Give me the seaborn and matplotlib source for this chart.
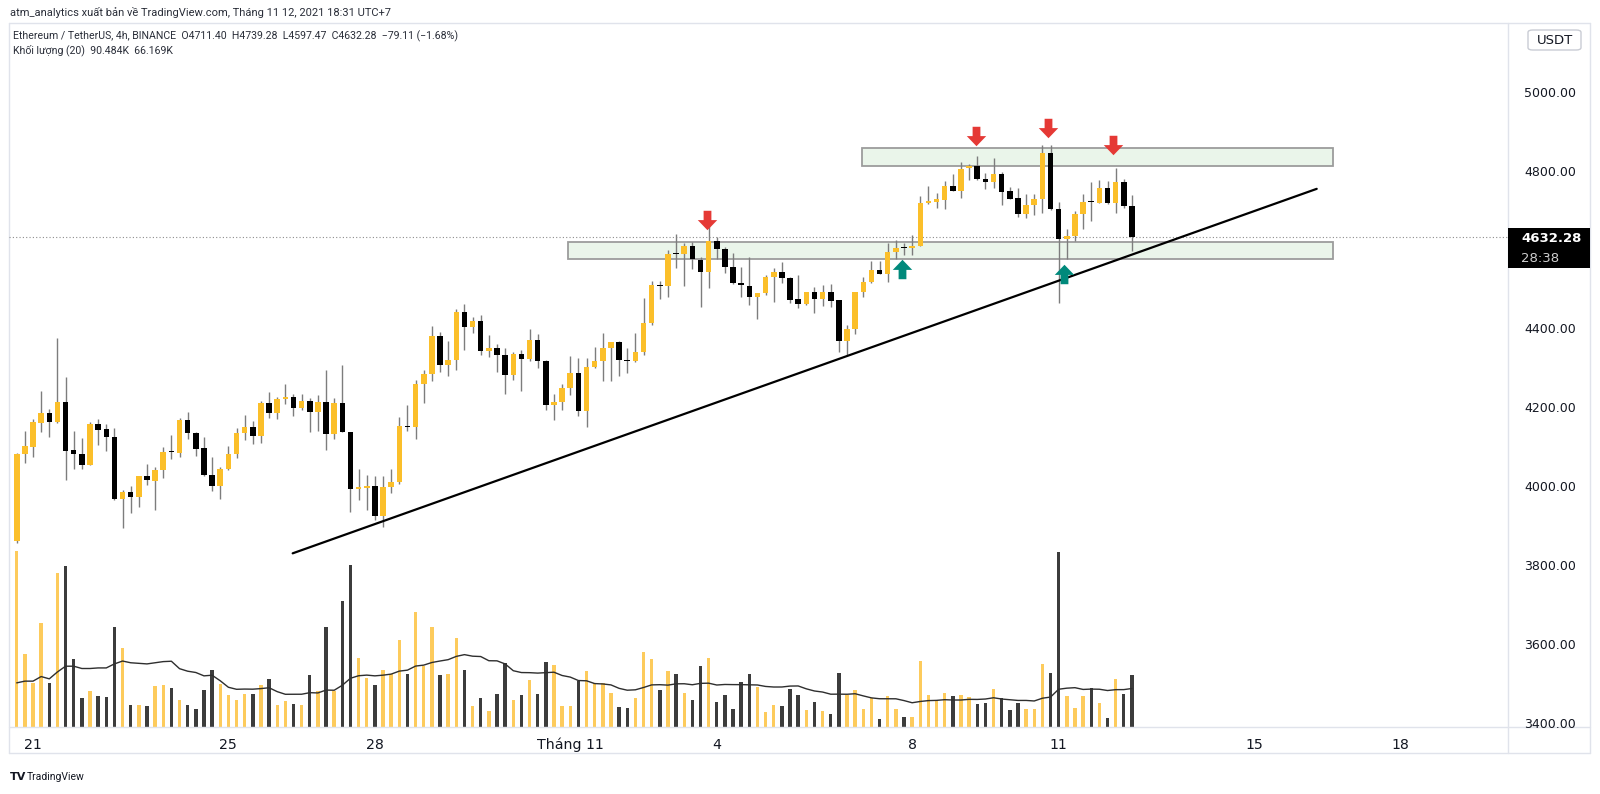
import numpy as np
import pandas as pd
import matplotlib
matplotlib.use("Agg")
import matplotlib.pyplot as plt
from matplotlib.patches import Rectangle, FancyBboxPatch
from matplotlib.lines import Line2D
from matplotlib.path import Path
from matplotlib.ticker import FormatStrFormatter
import seaborn as sns

# ETH/USDT 4h candles, Oct 20 -> Nov 12 2021
opens = [3861, 4081, 4100, 4161, 4185, 4162, 4213, 4091, 4082, 4055,
         4158, 4144, 4126, 3967, 3985, 3973, 4027, 4014, 4042, 4089,
         4085, 4168, 4134, 4096, 4028, 4001, 4045, 4083, 4135, 4150,
         4128, 4211, 4186, 4221, 4226, 4198, 4215, 4188, 4213, 4132,
         4211, 4137, 3994, 3995, 4000, 3924, 3997, 4011, 4153, 4151,
         4259, 4284, 4381, 4307, 4320, 4441, 4404, 4419, 4343, 4350,
         4334, 4283, 4336, 4323, 4370, 4318, 4207, 4214, 4248, 4288,
         4192, 4303, 4317, 4350, 4365, 4320, 4318, 4341, 4413, 4511,
         4508, 4589, 4588, 4609, 4574, 4544, 4622, 4601, 4555, 4515,
         4508, 4481, 4489, 4531, 4542, 4529, 4474, 4462, 4493, 4474,
         4492, 4472, 4369, 4399, 4493, 4518, 4549, 4539, 4593, 4604,
         4603, 4610, 4719, 4720, 4726, 4761, 4749, 4806, 4812, 4780,
         4772, 4791, 4748, 4730, 4690, 4712, 4728, 4846, 4702, 4627,
         4634, 4690, 4721, 4719, 4756, 4717, 4772, 4711.40]
highs = [4084, 4140, 4170, 4241, 4197, 4377, 4276, 4140, 4122, 4164,
         4170, 4158, 4147, 3990, 4001, 4027, 4056, 4050, 4100, 4129,
         4172, 4188, 4138, 4124, 4075, 4050, 4102, 4147, 4180, 4165,
         4216, 4238, 4227, 4260, 4234, 4235, 4223, 4231, 4296, 4225,
         4307, 4137, 4043, 4028, 4026, 4026, 4043, 4175, 4206, 4269,
         4296, 4406, 4390, 4368, 4449, 4462, 4430, 4434, 4383, 4360,
         4350, 4341, 4345, 4399, 4386, 4319, 4235, 4259, 4330, 4324,
         4324, 4354, 4388, 4366, 4368, 4350, 4388, 4478, 4520, 4520,
         4600, 4639, 4617, 4619, 4580, 4666, 4633, 4607, 4592, 4555,
         4580, 4489, 4535, 4554, 4569, 4530, 4535, 4493, 4506, 4510,
         4514, 4472, 4410, 4493, 4531, 4572, 4570, 4616, 4624, 4616,
         4637, 4736, 4760, 4743, 4775, 4792, 4821, 4818, 4837, 4793,
         4831, 4797, 4759, 4755, 4742, 4742, 4865, 4865, 4721, 4652,
         4698, 4740, 4772, 4776, 4775, 4808, 4778, 4739.28]
lows = [3855, 4058, 4073, 4138, 4124, 4161, 4017, 4045, 4044, 4053,
        4105, 4090, 3964, 3893, 3933, 3948, 4004, 3941, 4021, 4068,
        4073, 4119, 4078, 4025, 3989, 3967, 4041, 4071, 4117, 4108,
        4110, 4174, 4170, 4208, 4179, 4193, 4137, 4141, 4093, 4121,
        4137, 3935, 3965, 3941, 3915, 3898, 3984, 4005, 4141, 4119,
        4212, 4268, 4290, 4279, 4296, 4346, 4389, 4334, 4328, 4290,
        4234, 4269, 4242, 4318, 4299, 4193, 4168, 4193, 4231, 4179,
        4149, 4300, 4267, 4267, 4279, 4288, 4316, 4333, 4409, 4475,
        4479, 4554, 4508, 4550, 4455, 4502, 4575, 4540, 4513, 4480,
        4460, 4423, 4485, 4468, 4516, 4464, 4453, 4460, 4440, 4458,
        4455, 4340, 4333, 4385, 4481, 4516, 4539, 4519, 4576, 4586,
        4586, 4610, 4716, 4705, 4703, 4749, 4731, 4776, 4776, 4753,
        4757, 4713, 4728, 4682, 4679, 4688, 4694, 4700, 4464, 4575,
        4622, 4652, 4673, 4717, 4715, 4692, 4705, 4597.47]
closes = [4083, 4102, 4162, 4185, 4163, 4213, 4090, 4082, 4055, 4158,
          4142, 4125, 3967, 3985, 3973, 4027, 4015, 4042, 4088, 4086,
          4168, 4136, 4095, 4028, 4001, 4045, 4083, 4135, 4150, 4128,
          4211, 4186, 4221, 4226, 4198, 4215, 4188, 4213, 4132, 4211,
          4137, 3993, 3996, 4000, 3924, 3999, 4012, 4153, 4151, 4259,
          4284, 4381, 4307, 4320, 4441, 4404, 4418, 4343, 4350, 4334,
          4283, 4336, 4323, 4370, 4318, 4207, 4214, 4248, 4288, 4192,
          4303, 4317, 4350, 4365, 4320, 4318, 4341, 4413, 4511, 4508,
          4589, 4588, 4609, 4575, 4544, 4622, 4601, 4555, 4515, 4509,
          4481, 4489, 4530, 4542, 4529, 4472, 4462, 4493, 4474, 4492,
          4470, 4369, 4399, 4493, 4518, 4549, 4539, 4593, 4605, 4603,
          4610, 4719, 4720, 4728, 4761, 4749, 4804, 4812, 4780, 4772,
          4791, 4747, 4728, 4690, 4712, 4728, 4846, 4702, 4627, 4634,
          4690, 4721, 4720, 4756, 4717, 4772, 4711, 4632.28]
# volume in thousands of ETH
volumes = [305, 126, 76, 180, 76, 267, 280, 118, 49, 61,
           53, 52, 173, 136, 38, 37, 36, 70, 73, 67,
           46, 38, 31, 63, 98, 74, 54, 47, 57, 57,
           73, 82, 37, 44, 40, 37, 90, 61, 173, 61,
           219, 282, 119, 85, 72, 98, 91, 151, 91, 199,
           106, 173, 89, 91, 154, 98, 36, 49, 27, 57,
           111, 46, 55, 81, 57, 113, 107, 36, 36, 79,
           97, 76, 76, 58, 34, 33, 50, 129, 118, 64,
           96, 91, 58, 46, 106, 119, 43, 55, 31, 78,
           92, 69, 25, 38, 35, 65, 54, 29, 43, 27,
           21, 93, 54, 64, 31, 50, 13, 53, 31, 16,
           16, 114, 55, 46, 59, 53, 55, 52, 40, 41,
           65, 49, 28, 41, 31, 31, 109, 93, 304, 53,
           33, 53, 67, 41, 14, 83, 57, 90.484]
# MA(20) of volume for the first bars (earlier bars are off-screen)
vol_ma_head = [76, 79, 79, 87, 83, 95, 105, 105, 101, 101,
               102, 102, 109, 114, 111, 110, 109, 111, 113]

day_ticks = [2, 26, 44, 68, 86, 110, 128, 152, 170]
day_labels = ["21", "25", "28", "Tháng 11", "4", "8", "11", "15", "18"]
# 4600.00 sits under the last-price badge, so it is not shown
price_ticks = [3400, 3600, 3800, 4000, 4200, 4400, 4800, 5000]
last_price = 4632.28

# drawings: zones (x0, x1, y0, y1), trend line, arrow marks
zones = [(103.8, 161.7, 4811, 4857), (67.7, 161.7, 4576, 4620)]
trend_x = [33.9, 159.7]
trend_y = [3830, 4754]
down_x = [84.8, 117.8, 126.7, 134.7]
down_y = [4674, 4889, 4909, 4865]
up_x = [108.8, 128.7]
up_y = [4552, 4539]

YEL = "#fbbf2a"
BLK = "#000000"
WICK = "#7d7d7d"
VOL_UP = "#fdcb5c"
VOL_DN = "#3c3c3c"
LINE = "#e0e3eb"

sns.set_theme(style="white")
plt.rcParams["font.family"] = ["DejaVu Sans"]

W, H = 1600, 794
def fx(px): return px / W
def fy(py): return 1 - py / H

fig = plt.figure(figsize=(16, 7.94), dpi=100)
fig.patch.set_facecolor("white")
rect = [fx(9), fy(726.5), fx(1508) - fx(9), fy(22.5) - fy(726.5)]
vax = fig.add_axes(rect, zorder=1)
ax = fig.add_axes(rect, zorder=2)
ax.patch.set_alpha(0)

xl = (-0.95, 183.2)
o = np.array(opens); c = np.array(closes)
h = np.array(highs); l = np.array(lows)
idx = np.arange(len(c))
up = c >= o

# volume + MA20
vax.bar(idx, volumes, width=0.42, color=np.where(up, VOL_UP, VOL_DN), linewidth=0)
ma = pd.Series(volumes, dtype=float).rolling(20).mean()
ma.iloc[:len(vol_ma_head)] = vol_ma_head
sns.lineplot(x=idx, y=ma.values, ax=vax, color="#2e2e2e", lw=1.0)
vax.set_xlim(xl)
vax.set_ylim(0, 1226)
vax.axis("off")

# zones
for x0, x1, y0, y1 in zones:
    ax.add_patch(Rectangle((x0, y0), x1 - x0, y1 - y0, fc="#eaf5ea",
                           ec="#9c9c9c", lw=1.3, zorder=1))

ax.axhline(last_price, color="#8c8c8c", ls=(0, (1, 2)), lw=0.8, zorder=1)

# candles
ax.vlines(idx, l, h, color=WICK, lw=1.0, zorder=2)
body_lo = np.minimum(o, c)
body_h = np.maximum(np.abs(c - o), 3)
ax.bar(idx, body_h, bottom=body_lo, width=0.68,
       color=np.where(up, YEL, BLK), linewidth=0, zorder=3)

ax.plot(trend_x, trend_y, color="black", lw=1.6, zorder=4)

arrow = Path([(-0.2, 0.5), (0.2, 0.5), (0.2, 0.02), (0.5, 0.02), (0, -0.5),
              (-0.5, 0.02), (-0.2, 0.02), (-0.2, 0.5)])
arrow_up = Path(arrow.vertices * [1, -1])
ax.plot(down_x, down_y, ls="none", marker=arrow, ms=14, color="#e53935",
        mec="none", zorder=5)
ax.plot(up_x, up_y, ls="none", marker=arrow_up, ms=14, color="#00897b",
        mec="none", zorder=5)

ax.set_xlim(xl)
ax.set_ylim(3391, 5175.7)
ax.set_xticks(day_ticks, day_labels)
ax.set_yticks(price_ticks)
ax.yaxis.set_major_formatter(FormatStrFormatter("%.2f"))
ax.yaxis.tick_right()
ax.tick_params(axis="y", length=0, pad=11.5, labelsize=9, colors="#131722")
ax.tick_params(axis="x", length=0, pad=8, labelsize=10.2, colors="#131722")
for s in ax.spines.values():
    s.set_visible(False)
ax.grid(False)

# frame lines
def hline(y, x0, x1):
    fig.add_artist(Line2D([fx(x0), fx(x1)], [fy(y), fy(y)], color=LINE, lw=1))
def vline(x, y0, y1):
    fig.add_artist(Line2D([fx(x), fx(x)], [fy(y0), fy(y1)], color=LINE, lw=1))
hline(22.5, 9, 1590)
hline(726.5, 9, 1590)
hline(753, 9, 1590)
vline(9, 22.5, 753)
vline(1508, 22.5, 753)
vline(1590, 22.5, 753)

# last price box
fig.add_artist(Rectangle((fx(1508), fy(268)), fx(1590) - fx(1508), fy(228) - fy(268),
                         fc="black", ec="none", transform=fig.transFigure, zorder=10))
fig.text(fx(1521), fy(239), "4632.28", color="white", fontsize=9.5,
         fontweight="bold", va="center", zorder=11)
fig.text(fx(1521), fy(258), "28:38", color="#cfcfcf", fontsize=9.5,
         va="center", zorder=11)

# currency badge
fig.add_artist(FancyBboxPatch((fx(1528), fy(50)), fx(1581) - fx(1528), fy(30) - fy(50),
                              boxstyle="round,pad=0,rounding_size=0.003",
                              fc="white", ec="#c9ccd4", lw=1, transform=fig.transFigure))
fig.text(fx(1554.5), fy(40.5), "USDT", ha="center", va="center", fontsize=9.5,
         color="#131722")

# header and legend
fig.text(fx(10), fy(12), "atm_analytics xuất bản về TradingView.com, Tháng 11 12, 2021 18:31 UTC+7",
         fontsize=8, family=["Roboto", "DejaVu Sans"], color="#2a2e39", va="center")
fig.text(fx(13), fy(36.5), "Ethereum / TetherUS, 4h, BINANCE  O4711.40  H4739.28  L4597.47  C4632.28  −79.11 (−1.68%)",
         fontsize=7.6, family=["Roboto", "DejaVu Sans"], color="#2a2e39", va="center")
fig.text(fx(13), fy(50.5), "Khối lượng (20)  90.484K  66.169K",
         fontsize=7.6, family=["Roboto", "DejaVu Sans"], color="#2a2e39", va="center")

# footer logo
fig.text(fx(10), fy(777), "TV", fontsize=8, fontweight="bold", color="#131722", va="center")
fig.text(fx(27), fy(777), "TradingView", fontsize=7.5, family=["Roboto", "DejaVu Sans"],
         color="#131722", va="center")

fig.savefig("out.png", dpi=100)
